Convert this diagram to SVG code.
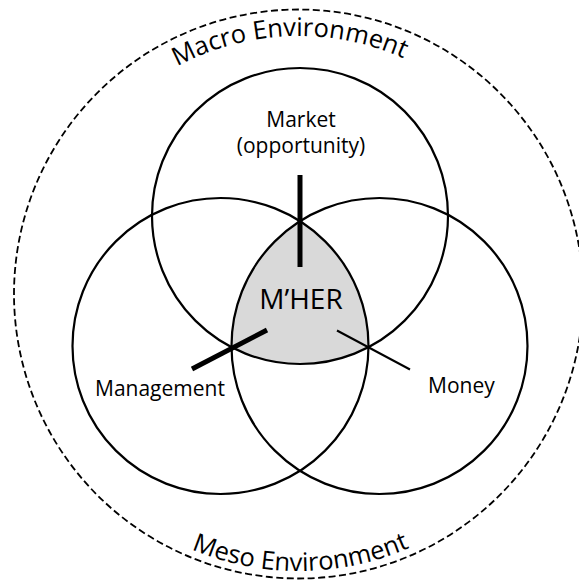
<svg xmlns="http://www.w3.org/2000/svg" width="579" height="583" viewBox="0 0 579 583">
  <style>
    .ring { fill: none; stroke: #000; stroke-width: 2.2; }
    .env { fill: none; stroke: #000; stroke-width: 1.8; stroke-dasharray: 7 3.5; }
    .lbl { font-family: "Open Sans", "Liberation Sans", sans-serif; font-size: 21px; fill: #000; }
    .envtxt { font-family: "Open Sans", "Liberation Sans", sans-serif; font-size: 25.5px; fill: #000; }
    .core { font-family: "Open Sans", "Liberation Sans", sans-serif; font-size: 28px; fill: #000; }
    .thick { stroke: #000; stroke-width: 5; fill: none; }
    .thin { stroke: #000; stroke-width: 2; fill: none; }
  </style>
  <defs>
    <path id="topArc" d="M 40.5,294 A 258 258 0 0 1 556.5,294"/>
    <path id="botArc" d="M 21.5,294 A 277 277 0 0 0 575.5,294"/>
  </defs>
  <rect width="579" height="583" fill="#fff"/>

  <g id="environment">
    <circle class="env" cx="298.5" cy="294" r="284.5"/>
    <text class="envtxt"><textPath href="#topArc" startOffset="396" text-anchor="middle">Macro Environment</textPath></text>
    <text class="envtxt"><textPath href="#botArc" startOffset="437" text-anchor="middle">Meso Environment</textPath></text>
  </g>

  <g id="core">
    <path d="M300,221.17 A148,148 0 0 0 231.5,347.2 A148,148 0 0 0 368.5,347.2 A148,148 0 0 0 300,221.17 Z" fill="#d9d9d9"/>
  </g>

  <g id="market">
    <circle class="ring" cx="300" cy="216" r="148"/>
    <text class="lbl" x="301" y="127" text-anchor="middle">Market</text>
    <text class="lbl" x="301" y="153" text-anchor="middle">(opportunity)</text>
  </g>

  <g id="management">
    <circle class="ring" cx="220.5" cy="346" r="148"/>
    <text class="lbl" x="95" y="396">Management</text>
  </g>

  <g id="money">
    <circle class="ring" cx="379.5" cy="346" r="148"/>
    <text class="lbl" x="428" y="393">Money</text>
  </g>

  <g id="connectors">
    <line class="thick" x1="300" y1="175" x2="300" y2="267"/>
    <line class="thick" x1="267" y1="330" x2="192" y2="369"/>
    <line class="thin" x1="337" y1="330.5" x2="410" y2="369.5"/>
  </g>

  <g id="mher">
    <text class="core" x="301" y="309" text-anchor="middle">M’HER</text>
  </g>
</svg>
